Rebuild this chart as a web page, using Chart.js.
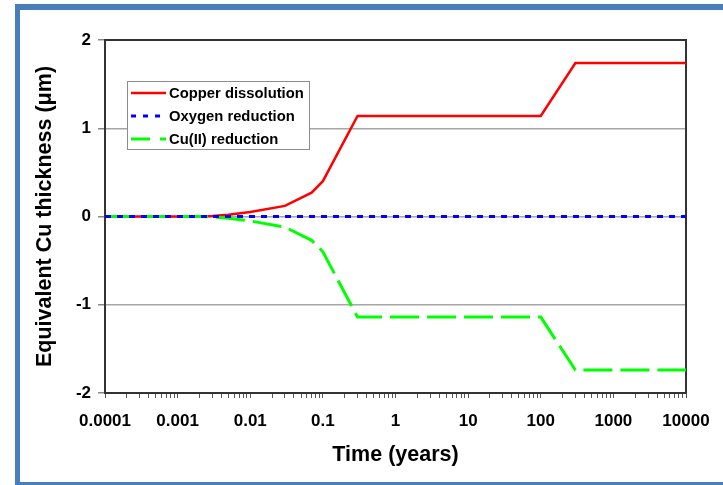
<!DOCTYPE html>
<html lang="en">
<head>
    <meta charset="UTF-8">
    <title>Equivalent Cu thickness vs time</title>
    <style>
        body {
            margin: 0;
            padding: 0;
            background-color: #ffffff;
            overflow: hidden;
        }

        /* blue frame round the figure (open on the right) */
        #frame {
            position: absolute;
            left: 15px;
            top: 4px;
            width: 800px;
            height: 472px;
            border-left: 5px solid #4a7ebb;
            border-top: 6px solid #4a7ebb;
            border-bottom: 4px solid #4a7ebb;
        }

        #chart-box {
            position: absolute;
            left: 0;
            top: 0;
            width: 723px;
            height: 485px;
        }
    </style>
    <script src="https://cdn.jsdelivr.net/npm/chart.js"></script>
</head>
<body>
    <div id="frame"></div>
    <div id="chart-box">
        <canvas id="cu-chart" width="723" height="485"></canvas>
    </div>

    <script>
        // Time points (years) and the three curves
        const timeYears = [0.0001, 0.002, 0.003, 0.005, 0.01, 0.03, 0.07, 0.1, 0.3, 100, 300, 10000];
        const copperDissolution = [0, 0, 0.005, 0.02, 0.05, 0.12, 0.27, 0.40, 1.14, 1.14, 1.74, 1.74];
        const oxygenReduction = [0, 0, 0, 0, 0, 0, 0, 0, 0, 0, 0, 0];
        const cuIIReduction = [0, 0, -0.005, -0.02, -0.05, -0.12, -0.27, -0.40, -1.14, -1.14, -1.74, -1.74];

        const seriesNames = ['Copper dissolution', 'Oxygen reduction', 'Cu(II) reduction'];
        const xTickLabels = ['0.0001', '0.001', '0.01', '0.1', '1', '10', '100', '1000', '10000'];
        const yTickValues = [-2, -1, 0, 1, 2];

        const FONT = '"Liberation Sans", Arial, sans-serif';

        function toPoints(values) {
            return timeYears.map((t, i) => ({ x: t, y: values[i] }));
        }

        // decade ticks plus the 2..9 minor ticks in between
        function logTicks() {
            const ticks = [];
            xTickLabels.forEach((lbl, i) => {
                const base = Number(lbl);
                ticks.push({ value: base, major: true });
                if (i < xTickLabels.length - 1) {
                    for (let k = 2; k <= 9; k++) {
                        ticks.push({ value: k * base });
                    }
                }
            });
            return ticks;
        }

        // box round the plot area
        const plotBox = {
            id: 'plotBox',
            beforeDatasetsDraw(chart) {
                const { ctx, chartArea: a } = chart;
                ctx.save();
                ctx.strokeStyle = '#333333';
                ctx.lineWidth = 2;
                ctx.strokeRect(a.left, a.top, a.right - a.left, a.bottom - a.top);
                ctx.restore();
            }
        };

        // legend box inside the plot
        const boxLegend = {
            id: 'boxLegend',
            afterDatasetsDraw(chart) {
                const ctx = chart.ctx;
                const x0 = 127, y0 = 81, w = 182, h = 68;
                ctx.save();
                ctx.fillStyle = '#ffffff';
                ctx.fillRect(x0, y0, w, h);
                ctx.strokeStyle = '#8c8c8c';
                ctx.lineWidth = 1;
                ctx.strokeRect(x0 + 0.5, y0 + 0.5, w, h);

                const rows = [93, 116, 139];
                const dashes = [[], [5, 7], [19, 10]];
                chart.data.datasets.forEach((ds, i) => {
                    const y = rows[i];
                    ctx.beginPath();
                    ctx.setLineDash(dashes[i]);
                    ctx.strokeStyle = ds.borderColor;
                    ctx.lineWidth = ds.borderWidth;
                    ctx.moveTo(131, y);
                    ctx.lineTo(166, y);
                    ctx.stroke();
                    ctx.setLineDash([]);
                    ctx.fillStyle = '#000000';
                    ctx.font = 'bold 14.8px ' + FONT;
                    ctx.textBaseline = 'middle';
                    ctx.textAlign = 'left';
                    ctx.fillText(ds.label, 169, y + 1);
                });
                ctx.restore();
            }
        };

        const ctx = document.getElementById('cu-chart').getContext('2d');
        const cuChart = new Chart(ctx, {
            type: 'line',
            data: {
                datasets: [
                    {
                        label: seriesNames[0],
                        data: toPoints(copperDissolution),
                        borderColor: '#ff0000',
                        borderWidth: 2.5,
                        pointRadius: 0,
                        order: 3
                    },
                    {
                        label: seriesNames[1],
                        data: toPoints(oxygenReduction),
                        borderColor: '#0000ff',
                        borderWidth: 3,
                        borderDash: [6, 6],
                        pointRadius: 0,
                        order: 1
                    },
                    {
                        label: seriesNames[2],
                        data: toPoints(cuIIReduction),
                        borderColor: '#00ff00',
                        borderWidth: 3,
                        borderDash: [29, 8],
                        pointRadius: 0,
                        order: 2
                    }
                ]
            },
            options: {
                responsive: false,
                animation: false,
                devicePixelRatio: 1,
                layout: {
                    padding: { left: 0, top: 40, right: 37, bottom: 0 }
                },
                plugins: {
                    legend: { display: false },
                    tooltip: { enabled: false }
                },
                scales: {
                    x: {
                        type: 'logarithmic',
                        min: 0.0001,
                        max: 10000,
                        afterBuildTicks: scale => { scale.ticks = logTicks(); },
                        afterFit: scale => { scale.height = 92; },
                        border: { display: true, color: '#333333', width: 2 },
                        grid: {
                            drawOnChartArea: false,
                            drawTicks: true,
                            tickLength: 5,
                            color: '#555555',
                            lineWidth: 1
                        },
                        ticks: {
                            autoSkip: false,
                            maxRotation: 0,
                            padding: 13,
                            color: '#000000',
                            font: { family: FONT, size: 17, weight: 'bold' },
                            callback: function (value) {
                                const i = xTickLabels.findIndex(l => Math.abs(Number(l) - value) / value < 1e-6);
                                return i >= 0 ? xTickLabels[i] : '';
                            }
                        },
                        title: {
                            display: true,
                            text: 'Time (years)',
                            color: '#000000',
                            font: { family: FONT, size: 21.5, weight: 'bold' },
                            padding: { top: 0, bottom: 17 }
                        }
                    },
                    y: {
                        min: -2,
                        max: 2,
                        afterBuildTicks: scale => { scale.ticks = yTickValues.map(v => ({ value: v })); },
                        afterFit: scale => { scale.width = 105; },
                        border: { display: true, color: '#333333', width: 2 },
                        grid: {
                            color: '#a6a6a6',
                            lineWidth: 1.5,
                            tickLength: 7,
                            tickColor: '#888888'
                        },
                        ticks: {
                            padding: 7,
                            color: '#000000',
                            font: { family: FONT, size: 17, weight: 'bold' }
                        },
                        title: {
                            display: true,
                            text: 'Equivalent Cu thickness (\u03bcm)',
                            color: '#000000',
                            font: { family: FONT, size: 21.5, weight: 'bold' },
                            padding: { top: 32, bottom: 0 }
                        }
                    }
                }
            },
            plugins: [plotBox, boxLegend]
        });
    </script>
</body>
</html>
